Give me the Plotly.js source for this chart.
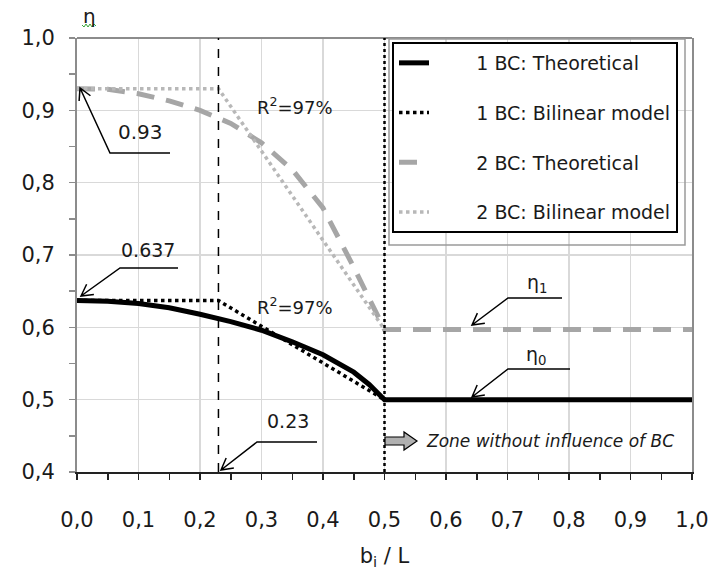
<!DOCTYPE html>
<html>
<head>
<meta charset="utf-8">
<script src="https://cdn.plot.ly/plotly-3.0.1.min.js"></script>
<style>html,body{margin:0;padding:0;background:#fff;}#chart{width:711px;height:570px;}</style>
</head>
<body>
<div id="chart"></div>
<script>
// ---- data ----
const legendNames = ["1 BC: Theoretical", "1 BC: Bilinear model", "2 BC: Theoretical", "2 BC: Bilinear model"];

const x1Theo = [0, 0.05, 0.1, 0.15, 0.2, 0.25, 0.3, 0.35, 0.4, 0.45, 0.475, 0.5, 0.6, 0.7, 0.8, 0.9, 1.0];
const y1Theo = [0.637, 0.636, 0.633, 0.627, 0.618, 0.608, 0.596, 0.58, 0.562, 0.538, 0.521, 0.5, 0.5, 0.5, 0.5, 0.5, 0.5];

const x1Bil = [0, 0.23, 0.5];
const y1Bil = [0.637, 0.637, 0.5];

const x2Theo = [0, 0.05, 0.1, 0.15, 0.2, 0.25, 0.3, 0.35, 0.4, 0.45, 0.5, 0.6, 0.7, 0.8, 0.9, 1.0];
const y2Theo = [0.93, 0.929, 0.923, 0.913, 0.9, 0.882, 0.855, 0.818, 0.765, 0.683, 0.597, 0.597, 0.597, 0.597, 0.597, 0.597];

const x2Bil = [0, 0.23, 0.5];
const y2Bil = [0.93, 0.93, 0.597];

const xTicks = [0, 0.1, 0.2, 0.3, 0.4, 0.5, 0.6, 0.7, 0.8, 0.9, 1.0];
const yTicks = [0.4, 0.5, 0.6, 0.7, 0.8, 0.9, 1.0];

const bTransition = 0.23;   // dashed reference line
const bLimit = 0.5;         // dotted reference line

// ---- layout helpers (pixel -> paper) ----
const L = 77, T = 38, W = 615, H = 434;
const px = p => (p - L) / W;
const py = p => (T + H - p) / H;
const pt = (x, y) => px(x) + "," + py(y);

const FONT = "DejaVu Sans, Verdana, sans-serif";
const TXT = "#1a1a1a";
const nb = "\u00a0\u00a0\u00a0\u00a0\u00a0\u00a0\u00a0";

const traces = [
  {x: x1Theo, y: y1Theo, name: nb + legendNames[0], mode: "lines", legendgroup: "a",
   line: {color: "#000", width: 5}},
  {x: x1Bil, y: y1Bil, name: nb + legendNames[1], mode: "lines", legendgroup: "b",
   line: {color: "#000", width: 3.5, dash: "dot"}},
  {x: x2Theo, y: y2Theo, name: nb + legendNames[2], mode: "lines", legendgroup: "c",
   line: {color: "#a6a6a6", width: 5, dash: "18px,12px"}},
  {x: x2Bil, y: y2Bil, name: nb + legendNames[3], mode: "lines", legendgroup: "d",
   line: {color: "#b8b8b8", width: 3.5, dash: "dot"}}
];

// bent leader: horizontal segment (tx..ex at ty), then diagonal to head (hx,hy) with open arrowhead
function leader(hx, hy, tx, ty, ex) {
  const dx = tx - hx, dy = ty - hy, len = Math.sqrt(dx * dx + dy * dy);
  const ux = dx / len, uy = dy / len, a = 0.5, s = 13;
  const w1x = hx + s * (ux * Math.cos(a) - uy * Math.sin(a)), w1y = hy + s * (ux * Math.sin(a) + uy * Math.cos(a));
  const w2x = hx + s * (ux * Math.cos(-a) - uy * Math.sin(-a)), w2y = hy + s * (ux * Math.sin(-a) + uy * Math.cos(-a));
  return {type: "path", xref: "paper", yref: "paper",
    path: "M" + pt(ex, ty) + " L" + pt(tx, ty) + " L" + pt(hx, hy) +
          " M" + pt(w1x, w1y) + " L" + pt(hx, hy) + " L" + pt(w2x, w2y),
    line: {color: "#000", width: 1.5}};
}

const shapes = [
  // top frame line (grey)
  {type: "line", xref: "paper", yref: "paper", x0: 0, x1: 1, y0: 1, y1: 1, line: {color: "#8c8c8c", width: 2}},
  // reference verticals
  {type: "line", xref: "x", yref: "paper", x0: bTransition, x1: bTransition, y0: 0, y1: 1,
   line: {color: "#000", width: 1.5, dash: "dash"}},
  {type: "line", xref: "x", yref: "paper", x0: bLimit, x1: bLimit, y0: 0, y1: 1,
   line: {color: "#000", width: 2.5, dash: "dot"}},
  // leaders with arrows
  leader(80, 88, 110, 153, 170),
  leader(81, 296, 120, 268, 178),
  leader(221, 470, 257, 442, 317),
  leader(472, 325, 508, 298, 562),
  leader(472, 397, 508, 369, 570),
  // block arrow "zone"
  {type: "path", xref: "paper", yref: "paper",
   path: "M" + pt(385, 437) + " L" + pt(404, 437) + " L" + pt(404, 432) + " L" + pt(417, 441) +
         " L" + pt(404, 450) + " L" + pt(404, 445) + " L" + pt(385, 445) + " Z",
   fillcolor: "#b0b0b0", line: {color: "#000", width: 1.2}},
  // outer grey frame of legend
  {type: "rect", xref: "paper", yref: "paper", x0: px(389), x1: px(685), y0: py(39), y1: py(245),
   line: {color: "#9a9a9a", width: 1.5}, fillcolor: "rgba(0,0,0,0)"},
  // green spell-check squiggle under eta
  {type: "path", xref: "paper", yref: "paper",
   path: "M" + pt(82, 25) + " L" + pt(84, 27) + " L" + pt(86, 24) + " L" + pt(88, 27) + " L" + pt(90, 24) +
         " L" + pt(92, 27) + " L" + pt(94, 24) + " L" + pt(96, 26),
   line: {color: "#3aa63a", width: 1}}
];

function txt(text, x, y, size, extra) {
  return Object.assign({text: text, xref: "paper", yref: "paper", x: px(x), y: py(y), showarrow: false,
    xanchor: "center", yanchor: "middle",
    font: {family: FONT, size: size, color: TXT}}, extra || {});
}

const annotations = [
  txt("η", 89, 16, 20),
  txt("0.93", 140, 132, 20),
  txt("0.637", 148, 250, 19),
  txt("0.23", 288, 421, 19),
  txt("R<sup>2</sup>=97%", 295, 106, 18),
  txt("R<sup>2</sup>=97%", 295, 306, 18),
  txt("η<sub>1</sub>", 537, 283, 19),
  txt("η<sub>0</sub>", 536, 355, 19),
  txt("<i>Zone without influence of BC</i>", 424, 441, 17, {xanchor: "left"})
];

const layout = {
  width: 711, height: 570,
  margin: {l: L, r: 711 - L - W, t: T, b: 570 - T - H},
  paper_bgcolor: "#fff", plot_bgcolor: "#fff",
  separators: ",.",
  font: {family: FONT, size: 20, color: TXT},
  showlegend: true,
  legend: {
    x: px(392), y: py(42), xanchor: "left", yanchor: "top",
    bgcolor: "#fff", bordercolor: "#000", borderwidth: 2,
    font: {family: FONT, size: 19, color: TXT},
    traceorder: "grouped", tracegroupgap: 22
  },
  xaxis: {
    range: [0, 1], tickvals: xTicks, tickformat: ".1f",
    showgrid: true, gridcolor: "#d9d9d9", gridwidth: 1.5,
    showline: true, linecolor: "#222", linewidth: 2,
    ticks: "outside", ticklen: 6, tickwidth: 1.5, tickcolor: "#222",
    minor: {dtick: 0.05, ticks: "outside", ticklen: 6, tickwidth: 1.5, tickcolor: "#222", showgrid: false},
    tickfont: {family: FONT, size: 21, color: TXT},
    ticklabelstandoff: 22,
    zeroline: false,
    title: {text: "b<sub>i</sub> / L", font: {family: FONT, size: 21, color: TXT}, standoff: 18}
  },
  yaxis: {
    range: [0.4, 1.0], tickvals: yTicks, tickformat: ".1f",
    showgrid: true, gridcolor: "#d9d9d9", gridwidth: 1.5,
    showline: true, linecolor: "#8c8c8c", linewidth: 2, mirror: true,
    ticks: "outside", ticklen: 6, tickwidth: 1.5, tickcolor: "#8c8c8c",
    minor: {dtick: 0.05, ticks: "outside", ticklen: 6, tickwidth: 1.5, tickcolor: "#8c8c8c", showgrid: false},
    tickfont: {family: FONT, size: 21, color: TXT},
    ticklabelstandoff: 10,
    zeroline: false
  },
  shapes: shapes,
  annotations: annotations
};

Plotly.newPlot("chart", traces, layout, {staticPlot: true, displayModeBar: false});
</script>
</body>
</html>
